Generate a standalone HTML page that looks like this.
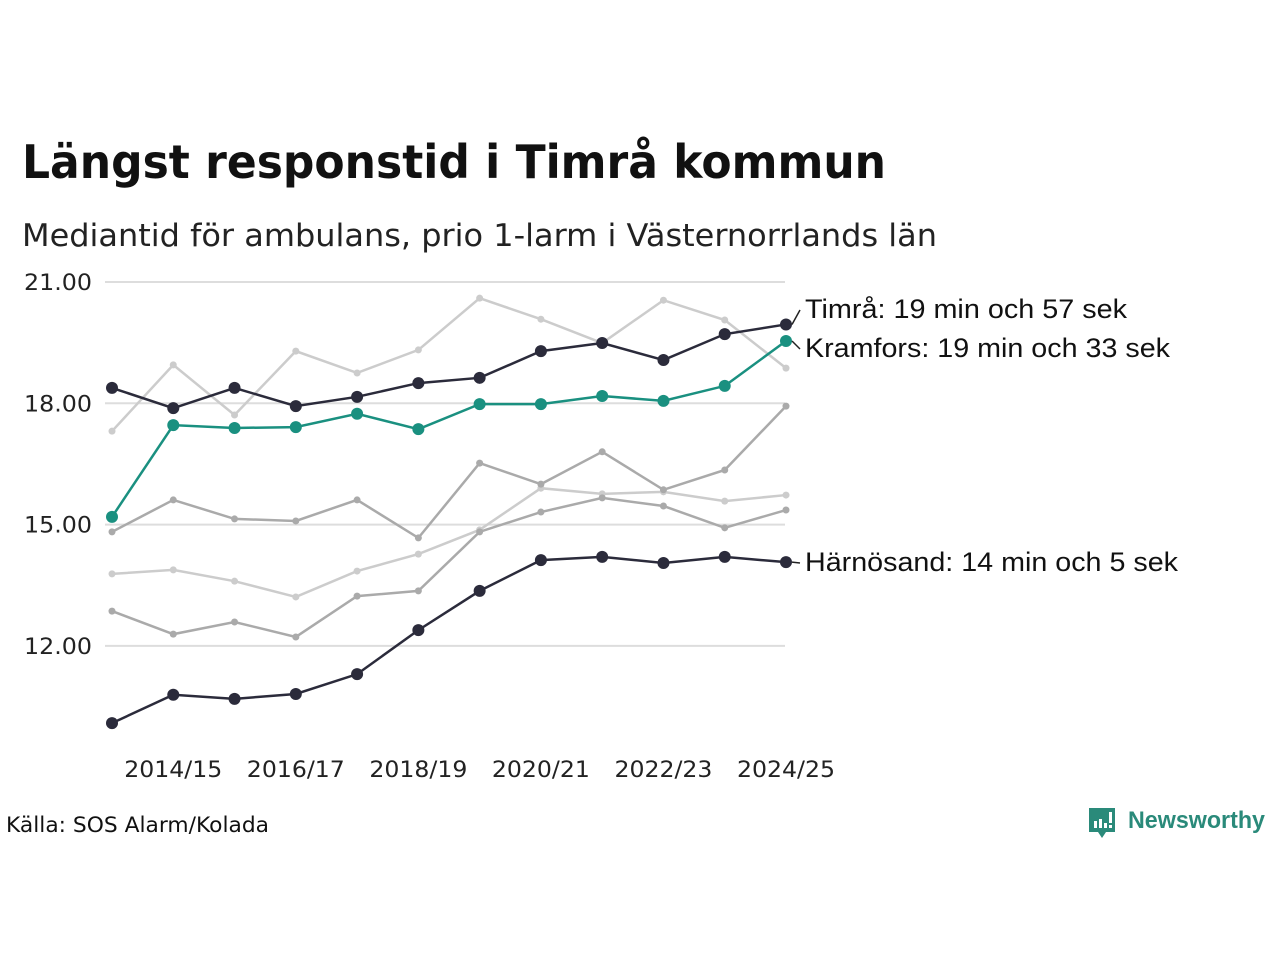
<!DOCTYPE html>
<html><head><meta charset="utf-8"><style>
body{margin:0;width:1280px;height:960px;background:#fff;overflow:hidden;font-family:"DejaVu Sans","Liberation Sans",sans-serif}
svg{position:absolute;left:0;top:0}
</style></head><body>
<svg id="chart" width="1280" height="960">
<text x="22" y="178" font-size="46" font-weight="bold" fill="#111" textLength="864" lengthAdjust="spacingAndGlyphs">Längst responstid i Timrå kommun</text>
<text x="22" y="246" font-size="31" fill="#222" textLength="915" lengthAdjust="spacingAndGlyphs">Mediantid för ambulans, prio 1-larm i Västernorrlands län</text>
<text x="6" y="832" font-size="21" fill="#111" textLength="263" lengthAdjust="spacingAndGlyphs">Källa: SOS Alarm/Kolada</text>
<g>
<path d="M1089 808h26v24h-9l-4 6-4-6h-9z" fill="#2a8a7a"/>
<rect x="1094" y="821" width="3" height="7" fill="#fff"/><rect x="1099" y="819" width="3" height="9" fill="#fff"/><rect x="1104" y="823" width="3" height="5" fill="#fff"/><rect x="1109" y="812" width="3" height="11" fill="#fff"/><rect x="1109" y="825" width="3" height="3" fill="#fff"/>
<text x="1128" y="828" font-size="24" font-weight="bold" fill="#2a8a7a" textLength="137" lengthAdjust="spacingAndGlyphs" font-family="Liberation Sans">Newsworthy</text>
</g>
<g id="grid"></g><g id="lines"></g><g id="labels"></g>
</svg>
<script>
const categories=["2013/14","2014/15","2015/16","2016/17","2017/18","2018/19","2019/20","2020/21","2021/22","2022/23","2023/24","2024/25"];
const yTicks=[12,15,18,21];
const timra=[18.38,17.88,18.38,17.93,18.16,18.50,18.63,19.29,19.49,19.07,19.71,19.95];
const kramfors=[15.19,17.46,17.39,17.41,17.74,17.36,17.98,17.98,18.18,18.06,18.43,19.54];
const harnosand=[10.09,10.79,10.69,10.81,11.30,12.39,13.36,14.12,14.20,14.05,14.20,14.07];
const other1=[17.31,18.95,17.71,19.29,18.75,19.32,20.60,20.08,19.49,20.55,20.06,18.87];
const other2=[14.82,15.61,15.14,15.09,15.61,14.67,16.52,16.00,16.80,15.86,16.35,17.93];
const other3=[13.78,13.88,13.60,13.21,13.85,14.27,14.87,15.90,15.76,15.81,15.58,15.73];
const other4=[12.86,12.29,12.59,12.22,13.23,13.36,14.82,15.31,15.66,15.46,14.92,15.36];
const NS="http://www.w3.org/2000/svg";
const x=i=>112+i*(786-112)/(categories.length-1);
const y=v=>282+(21-v)*40.43;
function mk(t,a,p){const e=document.createElementNS(NS,t);for(const k in a)e.setAttribute(k,a[k]);p.appendChild(e);return e;}
const grid=document.getElementById('grid'),lines=document.getElementById('lines'),labels=document.getElementById('labels');
yTicks.forEach(v=>{
 const l=mk('line',{x1:105,x2:785,y1:y(v),y2:y(v),stroke:'#ddd','stroke-width':2},grid);
 
 
 const t=mk('text',{x:92,y:y(v)+8,'font-size':22,fill:'#222','text-anchor':'end',textLength:68,lengthAdjust:'spacingAndGlyphs'},grid);
 t.textContent=v.toFixed(2);
 
 
});
categories.forEach((c,i)=>{ if(i%2==1){
 const t=mk('text',{x:x(i)-49,y:777,'font-size':22,fill:'#222',textLength:98,lengthAdjust:'spacingAndGlyphs'},grid);
 t.textContent=c;
 
 
}});
function series(d,col,w,r,name){
 const g=mk('g',{},lines);
 
 
 mk('polyline',{points:d.map((v,i)=>x(i)+','+y(v)).join(' '),fill:'none',stroke:col,'stroke-width':w},g);
 d.forEach((v,i)=>{const c=mk('circle',{cx:x(i),cy:y(v),r:r,fill:col},g);
  
  });
}
series(other1,'#cccccc',2.5,3.5,'series-other-1');
series(other3,'#cccccc',2.5,3.5,'series-other-3');
series(other2,'#aaaaaa',2.5,3.5,'series-other-2');
series(other4,'#aaaaaa',2.5,3.5,'series-other-4');
series(harnosand,'#2b2b3b',2.5,6,'series-harnosand');
series(timra,'#2b2b3b',2.5,6,'series-timra');
series(kramfors,'#1a9080',2.5,6,'series-kramfors');
function lab(txt,v,ly,len,name){
 const n=categories.length-1;
 mk('line',{x1:x(n)+6,y1:y(v),x2:800,y2:ly-8,stroke:'#222','stroke-width':1.5},labels);
 const t=mk('text',{x:805,y:ly,'font-size':27,fill:'#111','font-family':'Liberation Sans',textLength:len,lengthAdjust:'spacingAndGlyphs'},labels);
 t.textContent=txt;
 
 
}
lab('Timrå: 19 min och 57 sek',timra[11],318,322,'label-timra');
lab('Kramfors: 19 min och 33 sek',kramfors[11],357,365,'label-kramfors');
lab('Härnösand: 14 min och 5 sek',harnosand[11],571,373,'label-harnosand');
</script>
</body></html>
